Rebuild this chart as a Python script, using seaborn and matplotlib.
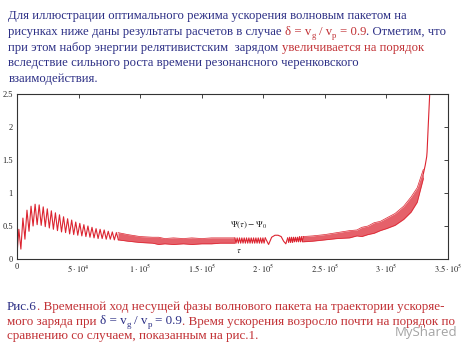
import numpy as np
import pandas as pd
import matplotlib
matplotlib.use("Agg")
import matplotlib.pyplot as plt
import seaborn as sns

# ---------------- data ----------------
# early, clearly resolved oscillations (alternating peaks / troughs)
A_tau = [0, 1500, 3150, 4800, 6450, 8100, 9750, 11400, 13050, 14700, 16350,
         18000, 19650, 21300, 22950, 24600, 26250, 27900, 29550, 31200, 32850,
         34500, 36150, 37800, 39450, 41100, 42750, 44400, 46050, 47700, 49350,
         51000, 52650, 54300, 55950, 57600, 59250, 60900, 62550, 64200, 65850,
         67500, 69150, 70800, 72450, 74100, 75750, 77400, 79050, 80700, 82350]
A_val = [0.07, 0.45, 0.15, 0.62, 0.30, 0.74, 0.42, 0.80, 0.50, 0.83, 0.52,
         0.82, 0.51, 0.79, 0.49, 0.76, 0.47, 0.73, 0.45, 0.70, 0.43,
         0.67, 0.41, 0.64, 0.40, 0.61, 0.38, 0.59, 0.37, 0.56, 0.36,
         0.54, 0.35, 0.52, 0.34, 0.50, 0.33, 0.48, 0.32, 0.46, 0.31,
         0.45, 0.31, 0.44, 0.30, 0.42, 0.30, 0.41, 0.29, 0.40, 0.29]

# dense band (envelope of unresolved oscillation)
B_tau = [82000, 90000, 100000, 110000, 115000, 120000, 127000, 135000, 142000,
         150000, 158000, 165000, 177000]
B_hi = [0.40, 0.37, 0.34, 0.33, 0.33, 0.31, 0.32, 0.31, 0.32, 0.31, 0.32, 0.32, 0.32]
B_lo = [0.29, 0.27, 0.25, 0.24, 0.22, 0.23, 0.22, 0.23, 0.22, 0.23, 0.23, 0.24, 0.24]

# resolved zig-zag before the slow hump
C_tau = [176900, 177850, 178800, 179750, 180700, 181650, 182600, 183550,
         184500, 185450, 186400, 187350, 188300, 189250, 190200, 191150,
         192100, 193050, 194000, 194950, 195900, 196850, 197800, 198750,
         199700, 200650, 201600]
C_val = [0.32, 0.24, 0.32, 0.24, 0.32, 0.24, 0.32, 0.24,
         0.32, 0.24, 0.32, 0.24, 0.32, 0.24, 0.32, 0.24,
         0.32, 0.24, 0.32, 0.24, 0.32, 0.24, 0.32, 0.24,
         0.32, 0.24, 0.32]

# slow hump
D_tau = [201600, 204300, 206800, 209500, 212000, 214500, 216500, 218300, 219800]
D_val = [0.32, 0.22, 0.33, 0.36, 0.36, 0.34, 0.27, 0.23, 0.32]

# resolved zig-zag after the hump
E_tau = [219800, 220600, 221400, 222200, 223000, 223800, 224600, 225400,
         226200, 227000, 227800, 228600, 229400, 230200, 231000, 231800, 232600]
E_val = [0.32, 0.25, 0.33, 0.25, 0.33, 0.25, 0.33, 0.26,
         0.33, 0.26, 0.33, 0.26, 0.34, 0.26, 0.34, 0.26, 0.34]

# rising dense band
F_tau = [232000, 240000, 250000, 260000, 270000, 276000, 280000, 285000, 290000,
         295000, 300000, 307000, 314000, 320000, 325000, 330000]
F_hi = [0.34, 0.35, 0.37, 0.40, 0.43, 0.44, 0.48, 0.50, 0.55, 0.57, 0.62, 0.69,
        0.80, 0.94, 1.08, 1.36]
F_lo = [0.26, 0.27, 0.29, 0.31, 0.32, 0.35, 0.34, 0.37, 0.39, 0.43, 0.46, 0.51,
        0.60, 0.71, 0.86, 1.22]

# final blow-up
G_tau = [330000, 331500, 332700, 333000, 334000, 335400]
G_val = [1.29, 1.42, 1.55, 1.62, 2.04, 2.60]

x_ticks = [0, 50000, 100000, 150000, 200000, 250000, 300000, 350000]
x_tick_labels = ["0", r"$5\cdot10^{4}$", r"$1\cdot10^{5}$", r"$1.5\cdot10^{5}$",
                 r"$2\cdot10^{5}$", r"$2.5\cdot10^{5}$", r"$3\cdot10^{5}$",
                 r"$3.5\cdot10^{5}$"]
y_ticks = [0, 0.5, 1, 1.5, 2, 2.5]
y_tick_labels = ["0", "0.5", "1", "1.5", "2", "2.5"]

BLUE = "#2c2f85"
RED = "#c23236"
LINE = "#dc2430"

top_lines = [
    [("Для иллюстрации оптимального режима ускорения волновым пакетом на", BLUE, "n")],
    [("рисунках ниже даны результаты расчетов в случае ", BLUE, "n"),
     ("δ = v", RED, "n"), ("g", RED, "s"), (" / v", RED, "n"), ("p", RED, "s"),
     (" = 0.9", RED, "n"), (". Отметим, что", BLUE, "n")],
    [("при этом набор энергии релятивистским  зарядом ", BLUE, "n"),
     ("увеличивается на порядок", RED, "n")],
    [("вследствие сильного роста времени резонансного черенковского", BLUE, "n")],
    [("взаимодействия.", BLUE, "n")],
]
cap_lines = [
    [("Рис.6", BLUE, "n"),
     (". Временной ход несущей фазы волнового пакета на траектории ускоряе-", RED, "n")],
    [("мого заряда при ", RED, "n"), ("δ = v", BLUE, "n"), ("g", BLUE, "s"),
     (" / v", BLUE, "n"), ("p", BLUE, "s"), (" = 0.9", BLUE, "n"),
     (". Время ускорения возросло почти на порядок по", RED, "n")],
    [("сравнению со случаем, показанным на рис.1.", RED, "n")],
]

# ---------------- figure ----------------
sns.set_theme(style="white")
plt.rcParams["font.family"] = ["Liberation Serif", "DejaVu Serif"]
plt.rcParams["mathtext.fontset"] = "stix"

W, H = 474, 355
fig = plt.figure(figsize=(W / 100, H / 100), dpi=100)
fig.patch.set_facecolor("white")
ax = fig.add_axes([17 / W, (H - 259) / H, 431 / W, 165 / H])
ax.set_facecolor("white")

lw = 0.8
for tx, ty in [(A_tau, A_val), (C_tau, C_val), (D_tau, D_val), (E_tau, E_val), (G_tau, G_val)]:
    sns.lineplot(x=tx, y=ty, ax=ax, color=LINE, lw=lw, sort=False, estimator=None)
for tx, hi, lo in [(B_tau, B_hi, B_lo), (F_tau, F_hi, F_lo)]:
    ax.fill_between(tx, lo, hi, color=LINE, alpha=0.72, lw=0)
    sns.lineplot(x=tx, y=hi, ax=ax, color=LINE, lw=0.5, sort=False, estimator=None)
    sns.lineplot(x=tx, y=lo, ax=ax, color=LINE, lw=0.5, sort=False, estimator=None)

ax.set_xlim(0, 350000)
ax.set_ylim(0, 2.5)
ax.set_xticks(x_ticks)
ax.set_xticklabels(x_tick_labels)
ax.set_yticks(y_ticks)
ax.set_yticklabels(y_tick_labels)
ax.tick_params(direction="in", length=3, width=0.6, top=True, right=True,
               labelsize=6, pad=3, colors="#222222")
for sp in ax.spines.values():
    sp.set_visible(True)
    sp.set_color("#333333")
    sp.set_linewidth(0.8)
ax.set_xlabel("")
ax.set_ylabel("")
ax.text(0.494, 0.19, r"$\Psi(\tau)-\Psi_0$", transform=ax.transAxes,
        fontsize=6.5, color="#222222")
ax.text(0.508, 0.035, r"$\tau$", transform=ax.transAxes, fontsize=6.5, color="#222222")

# ---------------- rich text ----------------
renderer = fig.canvas.get_renderer()


def text_w(s, fs):
    t = fig.text(0, 0, s, fontsize=fs)
    w = t.get_window_extent(renderer).width
    t.remove()
    return w


def part_w(s, fs):
    core = s.strip(" ")
    nl = len(s) - len(s.lstrip(" "))
    nt = len(s) - len(s.rstrip(" "))
    w = text_w(core, fs) if core else 0
    return w, nl, nt


def line_width(parts, fs):
    sp = text_w("a a", fs) - text_w("aa", fs)
    tot = 0
    for s, c, k in parts:
        f = fs * 0.68 if k == "s" else fs
        w, nl, nt = part_w(s, f)
        tot += w + (nl + nt) * sp
    return tot


def draw_line(parts, x0, y0, fs):
    sp = text_w("a a", fs) - text_w("aa", fs)
    x = x0
    for s, c, k in parts:
        f = fs * 0.68 if k == "s" else fs
        dy = fs * 0.30 if k == "s" else 0
        w, nl, nt = part_w(s, f)
        x += nl * sp
        if s.strip(" "):
            fig.text(x / W, 1 - (y0 + dy) / H, s.strip(" "), fontsize=f, color=c,
                     va="baseline", ha="left")
        x += w + nt * sp


fs_top = 10 * 403 / line_width(top_lines[0], 10)
for i, ln in enumerate(top_lines):
    draw_line(ln, 8.5, 19.5 + i * 15.6, fs_top)

fs_cap = 10 * 440 / line_width(cap_lines[0], 10)
for i, ln in enumerate(cap_lines):
    draw_line(ln, 7, 310 + i * 14.5, fs_cap)

fig.text(395 / W, 1 - 336 / H, "MyShared", fontsize=9.5, color="#9a9a9a",
         family=["Open Sans", "DejaVu Sans"], va="baseline", ha="left", alpha=0.9)

fig.savefig("out.png", dpi=100, facecolor="white")
